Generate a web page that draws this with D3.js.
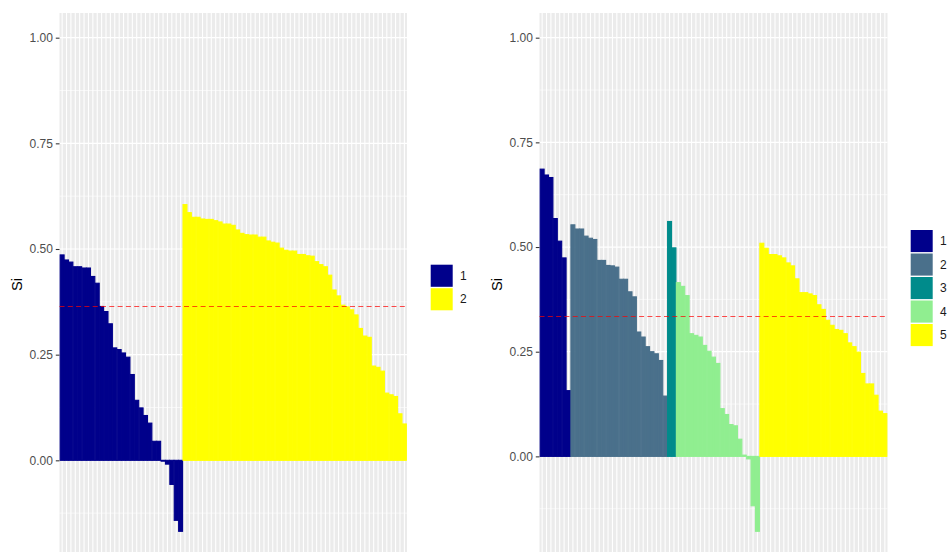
<!DOCTYPE html>
<html><head><meta charset="utf-8">
<script src="https://cdn.jsdelivr.net/npm/d3@7"></script>
<style>
body{margin:0;background:#fff;}
svg{display:block;font-family:"Liberation Sans",Arial,sans-serif;}
</style>
</head><body>
<svg id="chart" width="948" height="552"></svg>
<script>
// ---- data ----
const yTicks = [0, 0.25, 0.5, 0.75, 1];
const yTickLabels = ["0.00", "0.25", "0.50", "0.75", "1.00"];
const yMinorTicks = [-0.125, 0.125, 0.375, 0.625, 0.875];
const yMax = 1;
const yTitle = "Si";

const leftClusters = ["1", "2"];
const leftColors = ["#00008B", "#FFFF00"];
const leftC1 = [0.486, 0.474, 0.469, 0.458, 0.458, 0.455, 0.455, 0.435, 0.419, 0.364,
  0.352, 0.323, 0.266, 0.262, 0.254, 0.244, 0.203, 0.142, 0.124, 0.106,
  0.088, 0.045, 0.045, -0.002, -0.009, -0.057, -0.142, -0.168];
const leftC2 = [0.605, 0.586, 0.575, 0.575, 0.571, 0.570, 0.570, 0.567, 0.564, 0.559,
  0.559, 0.556, 0.545, 0.537, 0.534, 0.533, 0.533, 0.528, 0.528, 0.519,
  0.516, 0.514, 0.502, 0.497, 0.495, 0.495, 0.487, 0.487, 0.484, 0.483,
  0.470, 0.463, 0.458, 0.438, 0.403, 0.389, 0.367, 0.363, 0.356, 0.344,
  0.312, 0.294, 0.291, 0.223, 0.220, 0.211, 0.159, 0.155, 0.151, 0.110, 0.086];

const rightClusters = ["1", "2", "3", "4", "5"];
const rightColors = ["#00008B", "#4A708B", "#008B8B", "#90EE90", "#FFFF00"];
const rightC1 = [0.686, 0.672, 0.666, 0.568, 0.514, 0.474, 0.157];
const rightC2 = [0.553, 0.543, 0.543, 0.526, 0.521, 0.518, 0.468, 0.468, 0.456, 0.455,
  0.452, 0.423, 0.423, 0.393, 0.381, 0.297, 0.285, 0.262, 0.250, 0.245, 0.229, 0.144];
const rightC3 = [0.561, 0.498];
const rightC4 = [0.415, 0.406, 0.384, 0.293, 0.289, 0.285, 0.265, 0.251, 0.237, 0.222,
  0.114, 0.100, 0.076, 0.073, 0.041, 0.003, -0.006, -0.118, -0.179];
const rightC5 = [0.509, 0.497, 0.482, 0.482, 0.479, 0.474, 0.462, 0.455, 0.424, 0.391,
  0.391, 0.388, 0.384, 0.362, 0.351, 0.325, 0.313, 0.303, 0.301, 0.293,
  0.271, 0.262, 0.249, 0.198, 0.173, 0.173, 0.146, 0.108, 0.102];

const svg = d3.select("#chart");

function drawPanel(cfg) {
  const rows = [];
  cfg.series.forEach((vals, ci) => {
    vals.forEach(v => rows.push({ id: "o" + rows.length, cluster: cfg.clusters[ci], color: cfg.colors[ci], v: v }));
  });
  const lo = d3.min(rows, d => d.v);
  const span = yMax - lo;
  const y = d3.scaleLinear()
    .domain([lo - 0.05 * span, yMax + 0.05 * span])
    .range([cfg.top + cfg.height, cfg.top]);
  const x = d3.scaleBand()
    .domain(rows.map(d => d.id))
    .range([cfg.x0, cfg.x1])
    .paddingInner(0.1)
    .paddingOuter(0.15);
  const g = svg.append("g");
  const W = cfg.x1 - cfg.x0;
  g.append("rect").attr("x", cfg.x0).attr("y", cfg.top).attr("width", W).attr("height", cfg.height).attr("fill", "#EBEBEB");
  g.selectAll(".minor").data(yMinorTicks).join("line")
    .attr("x1", cfg.x0).attr("x2", cfg.x1)
    .attr("y1", d => y(d)).attr("y2", d => y(d))
    .attr("stroke", "#fff").attr("stroke-width", 0.6);
  g.selectAll(".major").data(yTicks).join("line")
    .attr("x1", cfg.x0).attr("x2", cfg.x1)
    .attr("y1", d => y(d)).attr("y2", d => y(d))
    .attr("stroke", "#fff").attr("stroke-width", 1.2);
  g.selectAll(".vgrid").data(rows).join("line")
    .attr("x1", d => x(d.id) + x.bandwidth() / 2).attr("x2", d => x(d.id) + x.bandwidth() / 2)
    .attr("y1", cfg.top).attr("y2", cfg.top + cfg.height)
    .attr("stroke", "#fff").attr("stroke-width", 1.1);
  g.selectAll(".bar").data(rows).join("rect")
    .attr("x", d => x(d.id))
    .attr("width", x.bandwidth())
    .attr("y", d => y(Math.max(0, d.v)))
    .attr("height", d => Math.abs(y(d.v) - y(0)))
    .attr("fill", d => d.color)
    .attr("stroke", d => d.color)
    .attr("stroke-width", 1.1);
  const m = d3.mean(rows, d => d.v);
  const my = Math.round(y(m)) + 0.5;
  g.append("line")
    .attr("x1", cfg.x0).attr("x2", cfg.x1)
    .attr("y1", my).attr("y2", my)
    .attr("stroke", "#FF0000").attr("stroke-opacity", 0.7).attr("stroke-width", 1.2)
    .attr("stroke-dasharray", "5,3.3");
  const ax = g.append("g").attr("transform", `translate(${cfg.x0},0)`)
    .call(d3.axisLeft(y).tickValues(yTicks).tickFormat((d, i) => yTickLabels[i]).tickSize(3.7).tickPadding(3));
  ax.select(".domain").remove();
  ax.selectAll(".tick line").attr("stroke", "#333333").attr("stroke-width", 1.07);
  ax.selectAll(".tick text").attr("fill", "#4D4D4D").attr("font-size", "12px")
    .attr("font-family", "Liberation Sans, Arial, sans-serif");
  g.append("text")
    .attr("transform", `translate(${cfg.titleX},${cfg.top + cfg.height / 2}) rotate(-90)`)
    .attr("text-anchor", "middle").attr("dominant-baseline", "central")
    .attr("font-size", "14.7px").attr("fill", "#000").text(yTitle);
  const keyH = 23.5;
  const lg = g.append("g");
  cfg.clusters.forEach((c, i) => {
    lg.append("rect")
      .attr("x", cfg.legX + 0.7).attr("y", cfg.legY + i * keyH + 0.7)
      .attr("width", 22).attr("height", keyH - 1.4)
      .attr("fill", cfg.colors[i]);
    lg.append("text")
      .attr("x", cfg.legX + 30).attr("y", cfg.legY + i * keyH + keyH / 2)
      .attr("dominant-baseline", "central")
      .attr("font-size", "12px").attr("fill", "#1A1A1A").text(c);
  });
}

drawPanel({ x0: 59.5, x1: 407, top: 13, height: 543, titleX: 17,
  series: [leftC1, leftC2], clusters: leftClusters, colors: leftColors, legX: 430, legY: 264 });
drawPanel({ x0: 539.5, x1: 887.5, top: 13, height: 543, titleX: 497,
  series: [rightC1, rightC2, rightC3, rightC4, rightC5], clusters: rightClusters, colors: rightColors, legX: 910, legY: 229.3 });
</script>
</body></html>
